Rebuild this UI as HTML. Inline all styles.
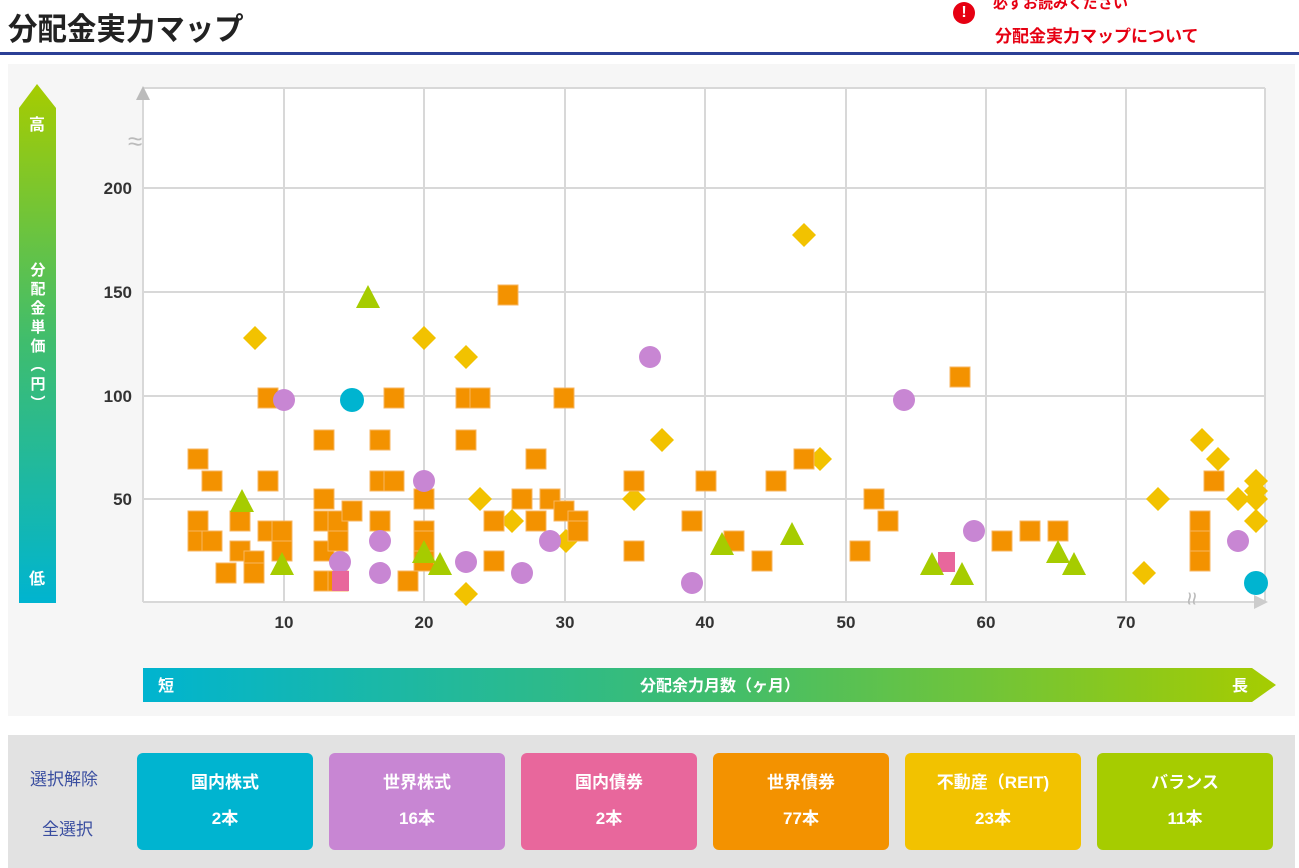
<!DOCTYPE html>
<html><head><meta charset="utf-8"><style>
body{margin:0;width:1299px;height:868px;background:#fff;font-family:"Liberation Sans","Noto Sans CJK JP",sans-serif;overflow:hidden;position:relative}
.t{position:absolute;left:8px;top:4px;font-size:31px;color:#222;font-weight:bold;transform:scaleX(0.95);transform-origin:left}
.bl{position:absolute;left:0;top:52px;width:1299px;height:3px;background:#2b3f96}
.n1{position:absolute;left:993px;top:-8px;font-size:15px;color:#e60012;font-weight:bold}
.n2{position:absolute;left:995px;top:22px;font-size:17px;color:#e60012;font-weight:bold}
.ic{position:absolute;left:953px;top:2px;width:22px;height:22px;border-radius:50%;background:#e60012;color:#fff;font-size:16px;font-weight:bold;text-align:center;line-height:22px}
.bg{position:absolute;left:8px;top:64px;width:1287px;height:652px;background:#f6f6f6}
.panel{position:absolute;left:8px;top:735px;width:1287px;height:133px;background:#e2e2e2}
.btn{position:absolute;top:753px;width:176px;height:97px;border-radius:6px;color:#fff;text-align:center;font-size:17px;line-height:36px;padding-top:12px;box-sizing:border-box;font-weight:bold}
.lk{position:absolute;left:30px;color:#3a4ea0;font-size:17px}
</style></head><body>
<div class="t">分配金実力マップ</div>
<div class="ic">!</div>
<div class="n1">必ずお読みください</div>
<div class="n2">分配金実力マップについて</div>
<div class="bl"></div>
<div class="bg"></div>
<svg style="position:absolute;left:0;top:0" width="1299" height="720">
<defs>
<linearGradient id="gv" x1="0" y1="0" x2="0" y2="1"><stop offset="0" stop-color="#a6cc00"/><stop offset="0.5" stop-color="#3fbd6e"/><stop offset="1" stop-color="#00b4d0"/></linearGradient>
<linearGradient id="gh" x1="0" y1="0" x2="1" y2="0"><stop offset="0" stop-color="#00b4d0"/><stop offset="0.5" stop-color="#3fbd6e"/><stop offset="1" stop-color="#a6cc00"/></linearGradient>
</defs>
<rect x="143" y="88" width="1122" height="514" fill="#fff"/>
<g stroke="#d8d8d8" stroke-width="2">
<line x1="284" y1="88" x2="284" y2="602"/><line x1="424" y1="88" x2="424" y2="602"/><line x1="565" y1="88" x2="565" y2="602"/><line x1="705" y1="88" x2="705" y2="602"/><line x1="846" y1="88" x2="846" y2="602"/><line x1="986" y1="88" x2="986" y2="602"/><line x1="1126" y1="88" x2="1126" y2="602"/><line x1="1265" y1="88" x2="1265" y2="602"/>
<line x1="143" y1="188" x2="1265" y2="188"/><line x1="143" y1="292" x2="1265" y2="292"/><line x1="143" y1="396" x2="1265" y2="396"/><line x1="143" y1="499" x2="1265" y2="499"/><line x1="143" y1="88" x2="1265" y2="88"/>
<line x1="143" y1="95" x2="143" y2="602"/><line x1="143" y1="602" x2="1255" y2="602"/>
</g>
<polygon points="143,86 136,100 150,100" fill="#bbb"/>
<polygon points="1268,602 1254,595 1254,609" fill="#ccc"/>
<text x="128" y="150" font-size="26" fill="#bbb">≈</text>
<text x="1180" y="612" font-size="24" fill="#bbb" transform="rotate(90 1192 604)">≈</text>
<g font-size="17" fill="#333" text-anchor="end" font-weight="bold"><text x="132" y="194">200</text><text x="132" y="298">150</text><text x="132" y="402">100</text><text x="132" y="505">50</text></g>
<g font-size="17" fill="#333" text-anchor="middle" font-weight="bold"><text x="284" y="628">10</text><text x="424" y="628">20</text><text x="565" y="628">30</text><text x="705" y="628">40</text><text x="846" y="628">50</text><text x="986" y="628">60</text><text x="1126" y="628">70</text></g>
<polygon points="37,84 56,108 56,603 19,603 19,108" fill="url(#gv)"/>
<text x="37" y="130" font-size="16" fill="#fff" text-anchor="middle" font-weight="bold">高</text>
<text x="37" y="584" font-size="16" fill="#fff" text-anchor="middle" font-weight="bold">低</text>
<text x="37" y="262" font-size="15" fill="#fff" font-weight="bold" writing-mode="tb" text-anchor="start" letter-spacing="4">分配金単価（円）</text>
<polygon points="143,668 1252,668 1276,685 1252,702 143,702" fill="url(#gh)"/>
<text x="166" y="691" font-size="16" fill="#fff" text-anchor="middle" font-weight="bold">短</text>
<text x="1240" y="691" font-size="16" fill="#fff" text-anchor="middle" font-weight="bold">長</text>
<text x="720" y="691" font-size="16" fill="#fff" text-anchor="middle" font-weight="bold">分配余力月数（ヶ月）</text>
<g id="pts"></g>
</svg>
<div class="panel"></div>
<div class="lk" style="top:765px">選択解除</div>
<div class="lk" style="left:42px;top:815px">全選択</div>
<div class="btn" style="left:137px;background:#00b4d0">国内株式<br>2本</div>
<div class="btn" style="left:329px;background:#c886d3">世界株式<br>16本</div>
<div class="btn" style="left:521px;background:#e8679c">国内債券<br>2本</div>
<div class="btn" style="left:713px;background:#f39200">世界債券<br>77本</div>
<div class="btn" style="left:905px;background:#f2c200">不動産（REIT)<br>23本</div>
<div class="btn" style="left:1097px;background:#a6cc00">バランス<br>11本</div>
<script>
var g=document.getElementById('pts'),h='';
var sq=[[198,459],[212,481],[198,521],[198,541],[212,541],[226,573],[240,521],[240,551],[254,561],[254,573],[268,398],[268,481],[268,531],[282,531],[282,551],[324,440],[324,499],[324,521],[324,551],[324,581],[338,521],[338,541],[352,511],[338,581],[380,440],[380,481],[380,521],[394,398],[394,481],[408,581],[424,499],[424,531],[424,541],[424,561],[466,398],[480,398],[466,440],[494,521],[494,561],[508,295],[522,499],[536,521],[536,459],[550,499],[564,398],[564,511],[578,521],[578,531],[634,481],[634,551],[692,521],[706,481],[734,541],[762,561],[776,481],[804,459],[860,551],[874,499],[888,521],[960,377],[1002,541],[1030,531],[1058,531],[1200,521],[1200,541],[1200,561],[1214,481]];
var di=[[255,338],[424,338],[466,357],[466,594],[480,499],[512,521],[566,541],[634,499],[662,440],[804,235],[820,459],[1144,573],[1158,499],[1202,440],[1218,459],[1238,499],[1256,481],[1256,491],[1256,499],[1256,521]];
var pu=[[284,400],[340,562],[380,541],[380,573],[424,481],[466,562],[522,573],[550,541],[650,357],[692,583],[904,400],[974,531],[1238,541]];
var cy=[[352,400],[1256,583]];var pk=[[340,581],[946,562]];
var tr=[[242,502],[282,565],[368,298],[424,553],[440,565],[722,545],[792,535],[932,565],[962,575],[1058,553],[1074,565]];
di.forEach(p=>h+='<polygon points="'+p[0]+','+(p[1]-12)+' '+(p[0]+12)+','+p[1]+' '+p[0]+','+(p[1]+12)+' '+(p[0]-12)+','+p[1]+'" fill="#f2c200"/>');
sq.forEach(p=>h+='<rect x="'+(p[0]-10)+'" y="'+(p[1]-10)+'" width="20" height="20" fill="#f39200" stroke="#f7b560" stroke-width="1"/>');
pu.forEach(p=>h+='<circle cx="'+p[0]+'" cy="'+p[1]+'" r="11" fill="#c886d3"/>');
cy.forEach(p=>h+='<circle cx="'+p[0]+'" cy="'+p[1]+'" r="12" fill="#00b4d0"/>');
pk.forEach(p=>h+='<rect x="'+(p[0]-8)+'" y="'+(p[1]-10)+'" width="17" height="20" fill="#e8679c"/>');
tr.forEach(p=>h+='<polygon points="'+p[0]+','+(p[1]-13)+' '+(p[0]+12)+','+(p[1]+10)+' '+(p[0]-12)+','+(p[1]+10)+'" fill="#a6cc00"/>');
g.innerHTML=h;
</script>
</body></html>
